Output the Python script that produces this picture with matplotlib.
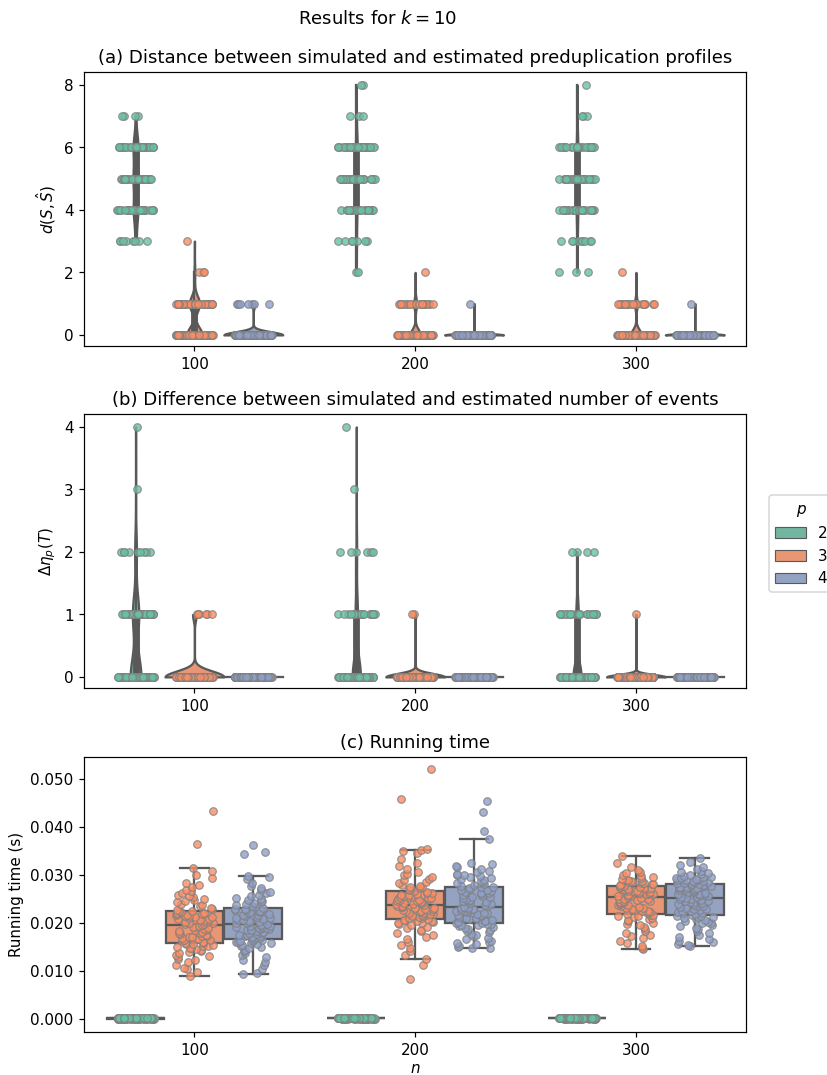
import colorsys
import numpy as np
import matplotlib
matplotlib.use("Agg")
import matplotlib.pyplot as plt
from matplotlib.mlab import GaussianKDE
from matplotlib.patches import Patch
from matplotlib.ticker import FormatStrFormatter

# categories
n_labels = ["100", "200", "300"]
p_labels = ["2", "3", "4"]

# (a) distance d(S, S^): levels and number of runs per level (rows: n = 100, 200, 300)
dist_levels = [0, 1, 2, 3, 4, 5, 6, 7, 8]
dist_p2 = [[0, 0, 0, 8, 28, 30, 30, 4, 0],
           [0, 0, 2, 7, 23, 30, 33, 3, 2],
           [0, 0, 3, 9, 28, 28, 28, 3, 1]]
dist_p3 = [[58, 38, 3, 1, 0, 0, 0, 0, 0],
           [78, 21, 1, 0, 0, 0, 0, 0, 0],
           [79, 20, 1, 0, 0, 0, 0, 0, 0]]
dist_p4 = [[93, 7, 0, 0, 0, 0, 0, 0, 0],
           [99, 1, 0, 0, 0, 0, 0, 0, 0],
           [99, 1, 0, 0, 0, 0, 0, 0, 0]]

# (b) difference in number of events
events_levels = [0, 1, 2, 3, 4]
events_p2 = [[56, 33, 9, 1, 1],
             [72, 20, 6, 1, 1],
             [74, 22, 4, 0, 0]]
events_p3 = [[94, 6, 0, 0, 0],
             [98, 2, 0, 0, 0],
             [99, 1, 0, 0, 0]]
events_p4 = [[100, 0, 0, 0, 0],
             [100, 0, 0, 0, 0],
             [100, 0, 0, 0, 0]]

# (c) running time in seconds
time_p2_levels = [0.0001, 0.00015, 0.0002, 0.00025]
time_p2 = [[30, 45, 20, 5],
           [25, 45, 25, 5],
           [20, 45, 28, 7]]

time_p3_n100 = [0.0090, 0.0098, 0.0105, 0.0106, 0.0112, 0.0118, 0.0122, 0.0126, 0.0129, 0.0131,
                0.0134, 0.0137, 0.0139, 0.0141, 0.0143, 0.0145, 0.0147, 0.0149, 0.0150, 0.0152,
                0.0153, 0.0155, 0.0156, 0.0157, 0.0158, 0.0159, 0.0161, 0.0162, 0.0164, 0.0165,
                0.0167, 0.0168, 0.0170, 0.0171, 0.0173, 0.0174, 0.0176, 0.0177, 0.0179, 0.0180,
                0.0182, 0.0183, 0.0185, 0.0186, 0.0188, 0.0189, 0.0191, 0.0192, 0.0194, 0.0195,
                0.0197, 0.0198, 0.0199, 0.0201, 0.0202, 0.0203, 0.0204, 0.0206, 0.0207, 0.0208,
                0.0209, 0.0210, 0.0212, 0.0213, 0.0214, 0.0215, 0.0216, 0.0217, 0.0218, 0.0219,
                0.0220, 0.0221, 0.0222, 0.0224, 0.0225, 0.0227, 0.0229, 0.0232, 0.0235, 0.0238,
                0.0240, 0.0243, 0.0246, 0.0248, 0.0251, 0.0254, 0.0257, 0.0259, 0.0262, 0.0266,
                0.0269, 0.0274, 0.0279, 0.0284, 0.0293, 0.0301, 0.0309, 0.0315, 0.0364, 0.0433]
time_p3_n200 = [0.0084, 0.0113, 0.0126, 0.0134, 0.0142, 0.0148, 0.0155, 0.0160, 0.0166, 0.0171,
                0.0175, 0.0179, 0.0183, 0.0186, 0.0189, 0.0192, 0.0195, 0.0197, 0.0199, 0.0201,
                0.0203, 0.0204, 0.0205, 0.0206, 0.0207, 0.0209, 0.0210, 0.0211, 0.0213, 0.0214,
                0.0215, 0.0216, 0.0218, 0.0219, 0.0220, 0.0221, 0.0222, 0.0224, 0.0225, 0.0226,
                0.0227, 0.0228, 0.0229, 0.0230, 0.0231, 0.0232, 0.0233, 0.0234, 0.0235, 0.0236,
                0.0238, 0.0239, 0.0240, 0.0241, 0.0242, 0.0243, 0.0244, 0.0245, 0.0246, 0.0247,
                0.0248, 0.0249, 0.0250, 0.0252, 0.0253, 0.0254, 0.0255, 0.0256, 0.0258, 0.0259,
                0.0260, 0.0262, 0.0263, 0.0265, 0.0266, 0.0268, 0.0270, 0.0272, 0.0274, 0.0276,
                0.0278, 0.0280, 0.0283, 0.0286, 0.0289, 0.0292, 0.0295, 0.0299, 0.0303, 0.0307,
                0.0312, 0.0318, 0.0325, 0.0333, 0.0345, 0.0350, 0.0353, 0.0354, 0.0458, 0.0521]
time_p3_n300 = [0.0146, 0.0149, 0.0153, 0.0158, 0.0163, 0.0168, 0.0172, 0.0176, 0.0180, 0.0184,
                0.0188, 0.0192, 0.0195, 0.0198, 0.0201, 0.0204, 0.0206, 0.0208, 0.0210, 0.0212,
                0.0214, 0.0215, 0.0216, 0.0217, 0.0218, 0.0220, 0.0222, 0.0223, 0.0225, 0.0226,
                0.0228, 0.0229, 0.0231, 0.0232, 0.0234, 0.0235, 0.0237, 0.0238, 0.0240, 0.0241,
                0.0243, 0.0244, 0.0245, 0.0246, 0.0247, 0.0249, 0.0250, 0.0251, 0.0252, 0.0254,
                0.0256, 0.0257, 0.0258, 0.0259, 0.0260, 0.0261, 0.0261, 0.0262, 0.0263, 0.0264,
                0.0265, 0.0266, 0.0266, 0.0267, 0.0268, 0.0269, 0.0270, 0.0271, 0.0271, 0.0272,
                0.0273, 0.0274, 0.0274, 0.0275, 0.0276, 0.0277, 0.0278, 0.0279, 0.0280, 0.0281,
                0.0282, 0.0283, 0.0284, 0.0285, 0.0286, 0.0287, 0.0288, 0.0289, 0.0290, 0.0292,
                0.0294, 0.0296, 0.0298, 0.0301, 0.0304, 0.0307, 0.0311, 0.0316, 0.0324, 0.0339]
time_p4_n100 = [0.0093, 0.0096, 0.0104, 0.0112, 0.0118, 0.0124, 0.0130, 0.0134, 0.0138, 0.0141,
                0.0144, 0.0147, 0.0150, 0.0152, 0.0154, 0.0156, 0.0158, 0.0159, 0.0160, 0.0161,
                0.0162, 0.0163, 0.0164, 0.0165, 0.0166, 0.0168, 0.0169, 0.0171, 0.0172, 0.0173,
                0.0175, 0.0176, 0.0177, 0.0179, 0.0180, 0.0181, 0.0182, 0.0184, 0.0185, 0.0186,
                0.0187, 0.0188, 0.0189, 0.0190, 0.0191, 0.0192, 0.0193, 0.0194, 0.0195, 0.0196,
                0.0198, 0.0199, 0.0200, 0.0202, 0.0203, 0.0204, 0.0206, 0.0207, 0.0209, 0.0210,
                0.0211, 0.0213, 0.0214, 0.0216, 0.0217, 0.0219, 0.0220, 0.0222, 0.0223, 0.0224,
                0.0226, 0.0227, 0.0228, 0.0229, 0.0230, 0.0232, 0.0234, 0.0236, 0.0238, 0.0240,
                0.0242, 0.0244, 0.0246, 0.0248, 0.0251, 0.0253, 0.0256, 0.0259, 0.0262, 0.0265,
                0.0268, 0.0272, 0.0277, 0.0284, 0.0291, 0.0295, 0.0297, 0.0343, 0.0347, 0.0363]
time_p4_n200 = [0.0147, 0.0149, 0.0151, 0.0153, 0.0156, 0.0158, 0.0160, 0.0163, 0.0166, 0.0169,
                0.0172, 0.0175, 0.0178, 0.0181, 0.0184, 0.0186, 0.0188, 0.0190, 0.0192, 0.0193,
                0.0195, 0.0196, 0.0197, 0.0198, 0.0199, 0.0201, 0.0202, 0.0204, 0.0205, 0.0207,
                0.0208, 0.0210, 0.0211, 0.0213, 0.0214, 0.0216, 0.0217, 0.0219, 0.0220, 0.0221,
                0.0223, 0.0224, 0.0225, 0.0227, 0.0228, 0.0229, 0.0230, 0.0231, 0.0232, 0.0233,
                0.0235, 0.0237, 0.0239, 0.0241, 0.0243, 0.0245, 0.0246, 0.0248, 0.0250, 0.0252,
                0.0254, 0.0255, 0.0257, 0.0258, 0.0260, 0.0262, 0.0263, 0.0265, 0.0266, 0.0268,
                0.0269, 0.0271, 0.0272, 0.0274, 0.0275, 0.0277, 0.0279, 0.0281, 0.0283, 0.0285,
                0.0287, 0.0289, 0.0291, 0.0293, 0.0295, 0.0297, 0.0299, 0.0301, 0.0303, 0.0306,
                0.0309, 0.0312, 0.0316, 0.0319, 0.0322, 0.0325, 0.0376, 0.0391, 0.0431, 0.0454]
time_p4_n300 = [0.0152, 0.0154, 0.0157, 0.0160, 0.0163, 0.0167, 0.0171, 0.0175, 0.0179, 0.0183,
                0.0187, 0.0190, 0.0193, 0.0196, 0.0199, 0.0201, 0.0203, 0.0205, 0.0207, 0.0209,
                0.0211, 0.0212, 0.0213, 0.0214, 0.0215, 0.0217, 0.0218, 0.0220, 0.0221, 0.0223,
                0.0224, 0.0226, 0.0227, 0.0229, 0.0230, 0.0232, 0.0233, 0.0235, 0.0236, 0.0238,
                0.0239, 0.0241, 0.0242, 0.0244, 0.0245, 0.0246, 0.0248, 0.0249, 0.0250, 0.0252,
                0.0254, 0.0255, 0.0256, 0.0258, 0.0259, 0.0260, 0.0261, 0.0263, 0.0264, 0.0265,
                0.0266, 0.0268, 0.0269, 0.0270, 0.0271, 0.0272, 0.0273, 0.0275, 0.0276, 0.0277,
                0.0278, 0.0279, 0.0280, 0.0281, 0.0281, 0.0283, 0.0284, 0.0285, 0.0286, 0.0287,
                0.0288, 0.0289, 0.0290, 0.0291, 0.0292, 0.0293, 0.0294, 0.0295, 0.0296, 0.0298,
                0.0300, 0.0302, 0.0304, 0.0306, 0.0309, 0.0312, 0.0316, 0.0321, 0.0328, 0.0335]

# colours (Set2), boxes/violins use a desaturated version
palette = ["#66c2a5", "#fc8d62", "#8da0cb"]
gray = "#595959"
lw = 1.5
n_hue = 3
each_width = 0.8 / n_hue
offsets = [-each_width, 0.0, each_width]
jit = 0.085


def desat(c, prop=0.75):
    r, g, b = matplotlib.colors.to_rgb(c)
    h, l, s = colorsys.rgb_to_hls(r, g, b)
    return colorsys.hls_to_rgb(h, l, s * prop)


fills = [desat(c) for c in palette]


def expand(levels, counts):
    return np.repeat(np.asarray(levels, dtype=float), counts)


def draw_violins(ax, groups):
    dwidth = each_width / 2
    for i in range(len(n_labels)):
        kdes = []
        for j in range(n_hue):
            data = groups[j][i]
            if np.unique(data).size == 1:
                kdes.append(None)
            else:
                sup = np.linspace(data.min(), data.max(), 100)
                kdes.append((sup, GaussianKDE(data, "scott").evaluate(sup)))
        peak = max(k[1].max() for k in kdes if k is not None)
        for j in range(n_hue):
            x = i + offsets[j]
            data = groups[j][i]
            if kdes[j] is None:
                ax.plot([x - dwidth, x + dwidth], [data[0], data[0]], color=gray, lw=lw)
                continue
            sup, dens = kdes[j]
            d = dens / peak
            ax.fill_betweenx(sup, x - d * dwidth, x + d * dwidth,
                             facecolor=fills[j], edgecolor=gray, linewidth=lw)
            # inner mini box
            q25, q50, q75 = np.percentile(data, [25, 50, 75])
            lim = 1.5 * (q75 - q25)
            h1 = data[data >= q25 - lim].min()
            h2 = data[data <= q75 + lim].max()
            ax.plot([x, x], [h1, h2], color=gray, lw=lw)
            ax.plot([x, x], [q25, q75], color=gray, lw=lw * 3)
            ax.scatter(x, q50, zorder=3, color="white", edgecolor=gray, s=(lw * 2) ** 2)


def draw_strip(ax, groups, rng):
    for j in range(n_hue):
        for i in range(len(n_labels)):
            data = groups[j][i]
            xs = i + offsets[j] + rng.uniform(-jit, jit, len(data))
            ax.scatter(xs, data, s=25, facecolor=palette[j], edgecolor="gray",
                       linewidth=0.8, alpha=0.8, zorder=4)


def draw_boxes(ax, groups):
    for j in range(n_hue):
        pos = [i + offsets[j] for i in range(len(n_labels))]
        ax.boxplot([np.asarray(g) for g in groups[j]], positions=pos,
                   widths=each_width * 0.98, patch_artist=True, showfliers=False,
                   boxprops=dict(facecolor=fills[j], edgecolor=gray, linewidth=lw),
                   whiskerprops=dict(color=gray, linewidth=lw),
                   capprops=dict(color=gray, linewidth=lw),
                   medianprops=dict(color=gray, linewidth=lw),
                   manage_ticks=False, zorder=2)


dist = [[expand(dist_levels, c) for c in dist_p2],
        [expand(dist_levels, c) for c in dist_p3],
        [expand(dist_levels, c) for c in dist_p4]]
events = [[expand(events_levels, c) for c in events_p2],
          [expand(events_levels, c) for c in events_p3],
          [expand(events_levels, c) for c in events_p4]]
times = [[expand(time_p2_levels, c) for c in time_p2],
         [np.array(time_p3_n100), np.array(time_p3_n200), np.array(time_p3_n300)],
         [np.array(time_p4_n100), np.array(time_p4_n200), np.array(time_p4_n300)]]

rng = np.random.default_rng(3)

dpi = 109
fig = plt.figure(figsize=(827.3 / dpi, 1075.3 / dpi), dpi=dpi)
ax_a = fig.add_axes([0.1016, 0.6781, 0.8005, 0.2549])
ax_b = fig.add_axes([0.1016, 0.3600, 0.8005, 0.2549])
ax_c = fig.add_axes([0.1016, 0.0400, 0.8005, 0.2558])

# (a)
draw_violins(ax_a, dist)
draw_strip(ax_a, dist, rng)
ax_a.set_ylim(-0.35, 8.42)
ax_a.set_yticks([0, 2, 4, 6, 8])
ax_a.set_ylabel(r"$d(S, \hat{S})$")
ax_a.set_title("(a) Distance between simulated and estimated preduplication profiles", fontsize=12)

# (b)
draw_violins(ax_b, events)
draw_strip(ax_b, events, rng)
ax_b.set_ylim(-0.176, 4.21)
ax_b.set_yticks([0, 1, 2, 3, 4])
ax_b.set_ylabel(r"$\Delta\eta_p(T)$")
ax_b.set_title("(b) Difference between simulated and estimated number of events", fontsize=12)

# (c)
draw_boxes(ax_c, times)
draw_strip(ax_c, times, rng)
ax_c.set_ylim(-0.0027, 0.0546)
ax_c.set_yticks([0, 0.01, 0.02, 0.03, 0.04, 0.05])
ax_c.yaxis.set_major_formatter(FormatStrFormatter("%.3f"))
ax_c.set_ylabel("Running time (s)")
ax_c.set_xlabel("$n$", labelpad=2)
ax_c.set_title("(c) Running time", fontsize=12)

for ax in (ax_a, ax_b, ax_c):
    ax.set_xlim(-0.5, 2.5)
    ax.set_xticks(range(len(n_labels)))
    ax.set_xticklabels(n_labels)

fig.suptitle("Results for $k = 10$", x=0.457, y=0.991, fontsize=12)

handles = [Patch(facecolor=fills[j], edgecolor=gray, linewidth=lw / 2, label=p_labels[j])
           for j in range(n_hue)]
fig.legend(handles=handles, title="$p$", loc="center left",
           bbox_to_anchor=(0.9207, 0.494))

fig.savefig("out.png", dpi=dpi)
